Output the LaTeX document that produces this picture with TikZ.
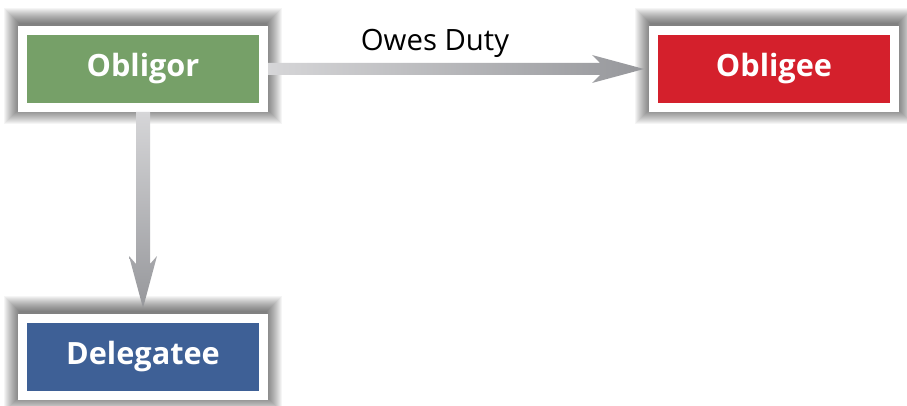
\documentclass[tikz,border=0pt]{standalone}
\usepackage{fontspec}
\setmainfont{Open Sans}
\usetikzlibrary{calc,backgrounds}

\definecolor{obligorgreen}{RGB}{118,160,104}
\definecolor{obligeered}{RGB}{212,32,44}
\definecolor{delegateeblue}{RGB}{62,96,150}
\definecolor{arrowlight}{RGB}{214,214,216}
\definecolor{arrowdark}{RGB}{150,151,155}

\tikzset{
  party/.style={draw=white, line width=6.75pt, minimum width=180.75pt,
    minimum height=57.75pt, inner sep=0pt, text=white,
    font=\bfseries\fontsize{23}{26}\selectfont},
  haze/.style={fill=black, opacity=.04},
}

\begin{document}
\begin{tikzpicture}[x=.75pt, y=-.75pt]

\useasboundingbox (0,0) rectangle (907,406);

\node[party, fill=obligorgreen]   (obligor)   at (143,69)  {Obligor};
\node[party, fill=obligeered]     (obligee)   at (774,69)  {Obligee};
\node[party, fill=delegateeblue]  (delegatee) at (143,357) {Delegatee};

% soft shadows behind the boxes
\begin{scope}[on background layer]
\fill[white] (0,0) rectangle (907,406);
\foreach \n in {obligor,obligee,delegatee}
  \foreach \r in {1,...,16}
    \fill[haze] ($(\n.north west)+(-\r+2,-\r-2)$) rectangle ($(\n.south east)+(\r-2,\r-4)$);
\end{scope}

% owes duty
\coordinate (dutytip) at ($(obligee.west)+(-5,0)$);
\shade[left color=arrowlight, right color=arrowdark]
  ($(obligor.east)+(0,-6)$) -- ($(dutytip)+(-44,-6)$) -- ($(dutytip)+(-52,-14)$)
  -- (dutytip) -- ($(dutytip)+(-52,14)$) -- ($(dutytip)+(-44,6)$)
  -- ($(obligor.east)+(0,6)$) -- cycle;
\node[font=\fontsize{22}{26}\selectfont] (owes) at (435,43) {Owes Duty};

% delegation
\coordinate (delegtip) at ($(delegatee.north)+(0,-6)$);
\shade[top color=arrowlight, bottom color=arrowdark]
  ($(obligor.south)+(-7,0)$) -- ($(delegtip)+(-7,-44)$) -- ($(delegtip)+(-14,-52)$)
  -- (delegtip) -- ($(delegtip)+(14,-52)$) -- ($(delegtip)+(7,-44)$)
  -- ($(obligor.south)+(7,0)$) -- cycle;

\end{tikzpicture}
\end{document}
